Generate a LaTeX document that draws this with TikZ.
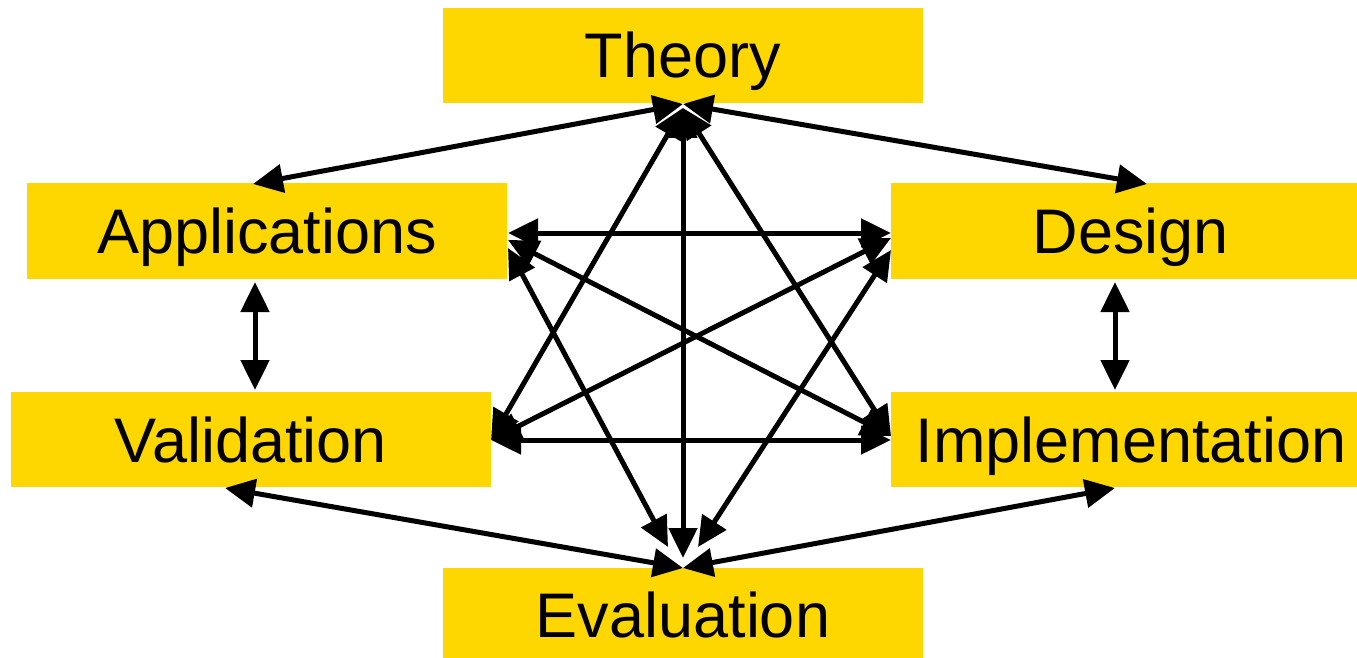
\documentclass[tikz,border=0pt]{standalone}
\usepackage{fontspec}
\setmainfont{Liberation Sans}
\usetikzlibrary{arrows.meta}
\definecolor{gold}{RGB}{255,215,0}
\tikzset{
  box/.style={fill=gold, draw=none, minimum width=480pt, minimum height=95pt, inner sep=0pt},
  lbl/.style={anchor=base, inner sep=0pt, font=\fontsize{63}{70}\selectfont},
  link/.style={line width=5pt, {Triangle[length=30pt,width=28pt]}-{Triangle[length=30pt,width=28pt]}}
}
\begin{document}
\begin{tikzpicture}[x=1pt,y=-1pt]
\useasboundingbox (0,0) rectangle (1357,658);
% boxes
\node[box] (T) at (683,55.5) {};
\node[box, minimum height=96pt] (A) at (267,231) {};
\node[box, minimum height=96pt] (D) at (1131,231) {};
\node[box] (V) at (251,439.5) {};
\node[box] (I) at (1131,439.5) {};
\node[box] (E) at (683,615.5) {};
% labels
\node[lbl] (Tl) at (683,78) {Theory};
\node[lbl] (Al) at (267,253) {Applications};
\node[lbl] (Dl) at (1131,253) {Design};
\node[lbl] (Vl) at (251,462) {Validation};
\node[lbl] (Il) at (1131,462) {Implementation};
\node[lbl] (El) at (683,637) {Evaluation};
% connector end points
\coordinate (Ts) at (683,104);
\coordinate (Ts2) at (683,108);
\coordinate (At) at (253,184);
\coordinate (Dt) at (1147,184);
\coordinate (Ab) at (255,282);
\coordinate (Vt) at (255,390);
\coordinate (Db) at (1115,282);
\coordinate (It) at (1115,390);
\coordinate (Vb) at (225,488);
\coordinate (Ib) at (1115,488);
\coordinate (Et) at (683,568);
\coordinate (Ev) at (683,558);
\coordinate (El2) at (668,547);
\coordinate (Er2) at (698,547);
\coordinate (Ae) at (508,233);
\coordinate (Ae2) at (508,240);
\coordinate (Ae3) at (508,248);
\coordinate (Dw) at (891,233);
\coordinate (Dw2) at (891,238);
\coordinate (Dw3) at (891,250);
\coordinate (Ve) at (491,440);
\coordinate (Iw) at (891,440);
\coordinate (Iw2) at (891,436);
% connectors
\draw[link] (Ts) -- (At);
\draw[link] (Ts) -- (Dt);
\draw[link] (Ab) -- (Vt);
\draw[link] (Db) -- (It);
\draw[link] (Vb) -- (Et);
\draw[link] (Ib) -- (Et);
\draw[link] (Ts2) -- (Ev);
\draw[link] (Ae) -- (Dw);
\draw[link] (Ve) -- (Iw);
\draw[link] (Ts2) -- (Ve);
\draw[link] (Ts2) -- (Iw2);
\draw[link] (Ae2) -- (Iw2);
\draw[link] (Dw2) -- (Ve);
\draw[link] (El2) -- (Ae3);
\draw[link] (Er2) -- (Dw3);
\end{tikzpicture}
\end{document}
